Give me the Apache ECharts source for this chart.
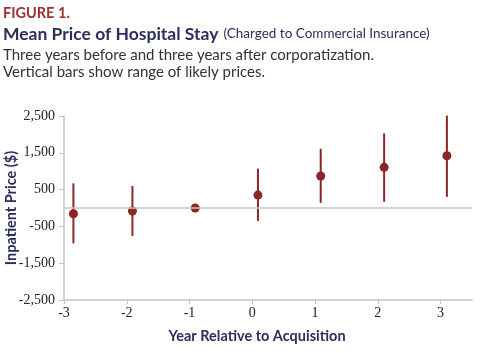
<!DOCTYPE html>
<html>
<head>
<meta charset="utf-8">
<script src="https://cdn.jsdelivr.net/npm/echarts@6/dist/echarts.min.js"></script>
<style>
  html, body { margin: 0; padding: 0; background: #fff; }
  #chart { width: 480px; height: 353px; }
</style>
</head>
<body>
<div id="chart"></div>
<script>
// years relative to acquisition (points are drawn slightly right of the tick)
const years = [-2.85, -1.91, -0.91, 0.09, 1.09, 2.1, 3.1];
const meanPrice = [-155, -80, 0, 350, 870, 1105, 1420];
const lowPrice = [-960, -760, 0, -350, 140, 170, 305];
const highPrice = [670, 600, 0, 1070, 1610, 2025, 2510];
const xTicks = [-3, -2, -1, 0, 1, 2, 3];

const red = '#8c2626';
const navy = '#2b2e5c';
const axisGray = '#c4c4c4';

const chart = echarts.init(document.getElementById('chart'));

const option = {
  animation: false,
  title: [
    {
      text: 'FIGURE 1.',
      left: 3, top: 6, padding: 0,
      textStyle: { color: '#9e3030', fontFamily: 'Lato', fontSize: 14.5, fontWeight: 'bold' }
    },
    {
      text: '{a|Mean Price of Hospital Stay} {b|(Charged to Commercial Insurance)}',
      left: 3, top: 25, padding: 0,
      textStyle: {
        rich: {
          a: { color: navy, fontFamily: 'Lato', fontSize: 17.5, fontWeight: 'bold' },
          b: { color: navy, fontFamily: 'Lato', fontSize: 13.5, fontWeight: 'normal' }
        }
      }
    },
    {
      text: 'Three years before and three years after corporatization.\nVertical bars show range of likely prices.',
      left: 3, top: 47, padding: 0,
      textStyle: { color: '#333', fontFamily: 'Lato', fontSize: 15, fontWeight: 'normal', lineHeight: 17 }
    }
  ],
  grid: { left: 64, right: 8, top: 116, bottom: 53, outerBoundsMode: 'none', containLabel: false },
  xAxis: {
    type: 'value',
    min: -3, max: 3.5,
    name: 'Year Relative to Acquisition',
    nameLocation: 'middle',
    nameGap: 29,
    nameMoveOverlap: false,
    nameTextStyle: { color: navy, fontFamily: 'Lato', fontSize: 14.5, fontWeight: 'bold', padding: [0, 22, 0, 0] },
    splitLine: { show: false },
    axisLine: { show: true, onZero: false, lineStyle: { color: axisGray, width: 1.5 } },
    axisTick: { show: true, customValues: xTicks, length: 4, lineStyle: { color: axisGray } },
    axisLabel: {
      customValues: xTicks,
      color: '#222', fontFamily: 'Liberation Serif', fontSize: 14, margin: 6
    }
  },
  yAxis: {
    type: 'value',
    min: -2500, max: 2500, interval: 1000,
    name: 'Inpatient Price ($)',
    nameLocation: 'middle',
    nameGap: 45,
    nameMoveOverlap: false,
    nameTextStyle: { color: navy, fontFamily: 'Lato', fontSize: 14.5, fontWeight: 'bold' },
    splitLine: { show: false },
    axisLine: { show: true, onZero: false, lineStyle: { color: axisGray, width: 1.5 } },
    axisTick: { show: true, length: 5, lineStyle: { color: axisGray } },
    axisLabel: {
      color: '#222', fontFamily: 'Liberation Serif', fontSize: 14, margin: 9,
      formatter: v => (v < 0 ? '-' : '') + Math.abs(v).toLocaleString('en-US')
    }
  },
  series: [
    {
      type: 'custom',
      data: years.map((x, i) => [x, lowPrice[i], highPrice[i]]),
      renderItem: function (params, api) {
        const lo = api.coord([api.value(0), api.value(1)]);
        const hi = api.coord([api.value(0), api.value(2)]);
        return {
          type: 'line',
          shape: { x1: lo[0], y1: lo[1], x2: hi[0], y2: hi[1] },
          style: { stroke: red, lineWidth: 2 }
        };
      },
      markLine: {
        silent: true,
        symbol: 'none',
        label: { show: false },
        lineStyle: { color: axisGray, type: 'solid', width: 1.5 },
        data: [{ yAxis: 0 }]
      },
      z: 2
    },
    {
      type: 'scatter',
      data: years.map((x, i) => [x, meanPrice[i]]),
      symbolSize: 9,
      itemStyle: { color: red, opacity: 1 },
      z: 3
    }
  ]
};

chart.setOption(option);
</script>
</body>
</html>
